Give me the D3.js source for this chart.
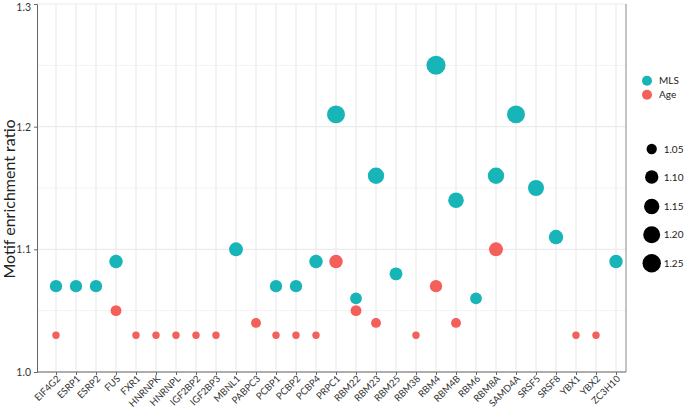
<!DOCTYPE html>
<html>
<head>
<meta charset="utf-8">
<script src="https://cdn.jsdelivr.net/npm/d3@7"></script>
<style>
  body { margin: 0; background: #fff; }
  text { font-family: Lato, "Open Sans", sans-serif; fill: #222; }
</style>
</head>
<body>
<div class="chart"></div>
<script>
// genes on the x axis
var genes = ['EIF4G2','ESRP1','ESRP2','FUS','FXR1','HNRNPK','HNRNPL','IGF2BP2','IGF2BP3',
  'MBNL1','PABPC3','PCBP1','PCBP2','PCBP4','PRPC1','RBM22','RBM23','RBM25','RBM38',
  'RBM4','RBM4B','RBM6','RBM8A','SAMD4A','SRSF5','SRSF8','YBX1','YBX2','ZC3H10'];

// null = no point for that gene
var mls = [1.07,1.07,1.07,1.09,null,null,null,null,null,
  1.10,null,1.07,1.07,1.09,1.21,1.06,1.16,1.08,null,
  1.25,1.14,1.06,1.16,1.21,1.15,1.11,null,null,1.09];
var age = [1.03,null,null,1.05,1.03,1.03,1.03,1.03,1.03,
  null,1.04,1.03,1.03,1.03,1.09,1.05,1.04,null,1.03,
  1.07,1.04,null,1.10,null,null,null,1.03,1.03,null];

var yTicks = [1.0, 1.1, 1.2, 1.3];
var yMinor = [1.05, 1.15, 1.25];
var sizeBreaks = [1.05, 1.10, 1.15, 1.20, 1.25];

var groups = [
  {name: 'MLS', color: '#17b5b7', values: mls},
  {name: 'Age', color: '#f45f5a', values: age}
];

var width = 685, height = 408;
var pLeft = 37, pRight = 626, pTop = 4, pBottom = 372;

var svg = d3.select('.chart').append('svg')
  .attr('width', width)
  .attr('height', height);

var x = d3.scalePoint().domain(genes).range([56, 616]);
var y = d3.scaleLinear().domain([1.0, 1.3]).range([pBottom, pTop]);
var r = d3.scaleSqrt().domain([0, 0.22]).range([3.7, 9.5]);
function rad(v) { return r(v - 1.03); }

// grid
svg.append('g').selectAll('line')
  .data(yMinor).enter().append('line')
  .attr('x1', pLeft).attr('x2', pRight)
  .attr('y1', d => y(d)).attr('y2', d => y(d))
  .style('stroke', '#f2f2f2').style('stroke-width', 1);
svg.append('g').selectAll('line')
  .data(yTicks).enter().append('line')
  .attr('x1', pLeft).attr('x2', pRight)
  .attr('y1', d => y(d)).attr('y2', d => y(d))
  .style('stroke', '#ebebeb').style('stroke-width', 1.2);
svg.append('g').selectAll('line')
  .data(genes).enter().append('line')
  .attr('x1', d => x(d)).attr('x2', d => x(d))
  .attr('y1', pTop).attr('y2', pBottom)
  .style('stroke', '#ebebeb').style('stroke-width', 1.2);

// right border
svg.append('line')
  .attr('x1', pRight).attr('x2', pRight).attr('y1', pTop).attr('y2', pBottom)
  .style('stroke', '#888').style('stroke-width', 1);

// axes
var yAxis = d3.axisLeft(y).tickValues(yTicks).tickSize(3).tickFormat(d3.format('.1f'));
var gy = svg.append('g').attr('transform', 'translate(' + pLeft + ',0)').call(yAxis);
gy.select('.domain').style('stroke', '#666');
gy.selectAll('.tick line').style('stroke', '#666');
gy.selectAll('.tick text').style('font-size', '10.5px').style('fill', '#333');
gy.selectAll('.tick').filter(d => d === 1.3).select('text').attr('dy', '0.6em');

var xAxis = d3.axisBottom(x).tickSize(3).tickSizeOuter(0);
var gx = svg.append('g').attr('transform', 'translate(0,' + pBottom + ')').call(xAxis);
gx.select('.domain').attr('d', 'M' + pLeft + ',0H' + pRight).style('stroke', '#666');
gx.selectAll('.tick line').style('stroke', '#666');
gx.selectAll('.tick text')
  .style('font-size', '9.5px').style('fill', '#333')
  .style('text-anchor', 'end')
  .attr('y', 0).attr('dy', '0.35em')
  .attr('transform', 'translate(2,5) rotate(-45)');

svg.append('text')
  .attr('transform', 'translate(15,199) rotate(-90)')
  .style('text-anchor', 'middle')
  .style('font-size', '16px')
  .text('Motif enrichment ratio');

// points
groups.forEach(function(g) {
  var pts = genes.map((gene, i) => ({gene: gene, v: g.values[i]})).filter(d => d.v != null);
  svg.append('g').selectAll('circle')
    .data(pts).enter().append('circle')
    .attr('cx', d => x(d.gene))
    .attr('cy', d => y(d.v))
    .attr('r', d => rad(d.v))
    .style('fill', g.color);
});

// legend: colour
var lg = svg.append('g').selectAll('g')
  .data(groups).enter().append('g')
  .attr('transform', (d, i) => 'translate(647,' + (80.7 + i * 14) + ')');
lg.append('circle').attr('r', 5).style('fill', d => d.color);
lg.append('text').attr('x', 12).attr('dy', '0.35em').style('font-size', '10px').text(d => d.name);

// legend: size
var sy = [149, 177, 206.5, 234.7, 263.3];
var ls = svg.append('g').selectAll('g')
  .data(sizeBreaks).enter().append('g')
  .attr('transform', (d, i) => 'translate(651.7,' + sy[i] + ')');
ls.append('circle').attr('r', d => rad(d) - 0.3).style('fill', '#000');
ls.append('text').attr('x', 12).attr('dy', '0.35em').style('font-size', '10px').text(d => d3.format('.2f')(d));
</script>
</body>
</html>
